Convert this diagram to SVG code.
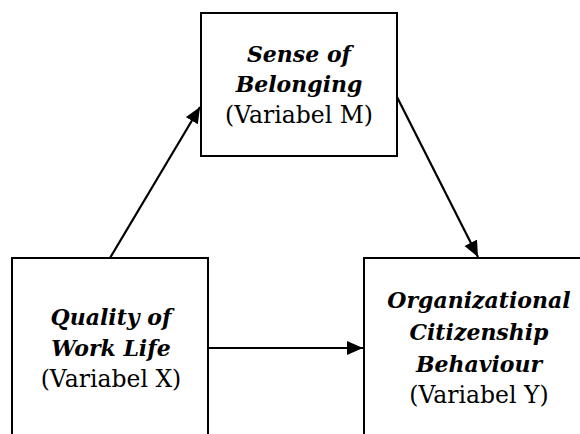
<svg xmlns="http://www.w3.org/2000/svg" width="580" height="434" viewBox="0 0 580 434">
<defs>
<style>
.box{fill:#fff;stroke:#000;stroke-width:2}
.edge{stroke:#000;stroke-width:2.2;fill:none}
text{font-family:"DejaVu Serif","Liberation Serif",serif;font-size:23.5px;fill:#000;text-anchor:middle}
.t{font-weight:bold;font-style:italic;font-size:22px}
</style>
<marker id="ah" markerUnits="userSpaceOnUse" markerWidth="20" markerHeight="20" refX="16" refY="7" orient="auto">
<path d="M0,0 L16,7 L0,14 Z" fill="#000"/>
</marker>
</defs>
<rect width="580" height="434" fill="#fff"/>
<g id="connectors">
<line class="edge" x1="110" y1="258" x2="200" y2="107" marker-end="url(#ah)"/>
<line class="edge" x1="397" y1="97" x2="478" y2="257" marker-end="url(#ah)"/>
<line class="edge" x1="208" y1="348" x2="363" y2="348" marker-end="url(#ah)"/>
</g>
<g id="nodeM">
<rect class="box" x="201" y="13" width="196" height="143"/>
<text x="299" y="62" class="t">Sense of</text>
<text x="299" y="92" class="t">Belonging</text>
<text x="299" y="123">(Variabel M)</text>
</g>
<g id="nodeX">
<rect class="box" x="12" y="258" width="196" height="200"/>
<text x="111" y="325" class="t">Quality of</text>
<text x="111" y="356" class="t">Work Life</text>
<text x="111" y="387">(Variabel X)</text>
</g>
<g id="nodeY">
<rect class="box" x="364" y="258" width="240" height="200"/>
<text x="479" y="308" class="t">Organizational</text>
<text x="479" y="340" class="t">Citizenship</text>
<text x="479" y="372" class="t">Behaviour</text>
<text x="479" y="403">(Variabel Y)</text>
</g>
</svg>
